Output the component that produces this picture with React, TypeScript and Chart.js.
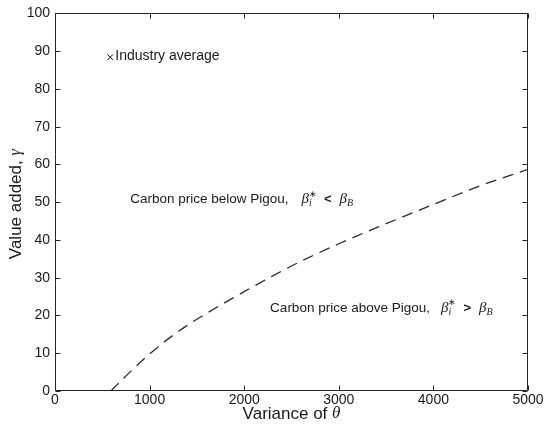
import React, { useEffect, useRef } from "react";
import { Chart, registerables } from "chart.js";

Chart.register(...registerables);

// Boundary curve: value added (gamma) as a function of variance of theta
const boundaryX = [590, 800, 1000, 1250, 1500, 2000, 2500, 3000, 3500, 4000, 4500, 5000];
const boundaryY = [0, 5.2, 9.8, 14.8, 19.0, 26.3, 33.1, 39.0, 44.3, 49.4, 54.4, 58.7];

// Industry average point
const industryX = [584];
const industryY = [88.4];
const industryLabel = "Industry average";

const xTicks = [0, 1000, 2000, 3000, 4000, 5000];
const yTicks = [0, 10, 20, 30, 40, 50, 60, 70, 80, 90, 100];

const xTitle = "Variance of ";
const xTitleSym = "θ";
const yTitle = "Value added, ";
const yTitleSym = "γ";

const belowText = "Carbon price below Pigou,";
const aboveText = "Carbon price above Pigou,";
// annotation anchors in data coordinates
const belowAnchor = { x: 795, y: 50.8 };
const aboveAnchor = { x: 2274, y: 22.0 };

const SANS = '"Liberation Sans", Arial, Helvetica, sans-serif';
const SERIF = '"Liberation Serif", "Times New Roman", serif';
const INK = "#1a1a1a";
const AXIS = "#262626";

type Run = { text: string; font: string; dy?: number; gap?: number; stackWith?: { text: string; font: string; dy: number } };

function runWidth(ctx: CanvasRenderingContext2D, r: Run) {
  ctx.font = r.font;
  let w = ctx.measureText(r.text).width;
  if (r.stackWith) {
    ctx.font = r.stackWith.font;
    w = Math.max(w, ctx.measureText(r.stackWith.text).width);
  }
  return w + (r.gap || 0);
}

function drawRuns(ctx: CanvasRenderingContext2D, runs: Run[], x: number, y: number) {
  let cx = x;
  for (const r of runs) {
    const w = runWidth(ctx, r);
    ctx.font = r.font;
    ctx.fillText(r.text, cx, y + (r.dy || 0));
    if (r.stackWith) {
      ctx.font = r.stackWith.font;
      ctx.fillText(r.stackWith.text, cx, y + r.stackWith.dy);
    }
    cx += w;
  }
  return cx - x;
}

function measureRuns(ctx: CanvasRenderingContext2D, runs: Run[]) {
  let w = 0;
  for (const r of runs) w += runWidth(ctx, r);
  return w;
}

function mathRuns(main: string, rel: string, lead: number): Run[] {
  const it = `italic 15px ${SERIF}`;
  const small = `italic 10px ${SERIF}`;
  return [
    { text: main, font: `13.5px ${SANS}`, gap: lead },
    { text: "β", font: it },
    { text: "∗", font: `9px ${SERIF}`, dy: -5, gap: 7, stackWith: { text: "i", font: small, dy: 4 } },
    { text: rel, font: `bold 13px ${SANS}`, gap: 8 },
    { text: "β", font: it },
    { text: "B", font: small, dy: 4 },
  ];
}

const decor = {
  id: "decor",
  afterDraw(chart: any) {
    const { ctx, chartArea: a, scales } = chart;
    const xs = scales.x;
    const ys = scales.y;
    ctx.save();
    // box
    ctx.strokeStyle = AXIS;
    ctx.lineWidth = 1;
    const L = Math.round(a.left) + 0.5;
    const R = Math.round(a.right) - 0.5;
    const T = Math.round(a.top) + 0.5;
    const B = Math.round(a.bottom) - 0.5;
    ctx.beginPath();
    ctx.rect(L, T, R - L, B - T);
    ctx.stroke();
    // inward ticks
    const tl = 5;
    ctx.beginPath();
    for (const v of xTicks) {
      const px = Math.round(xs.getPixelForValue(v)) + 0.5;
      ctx.moveTo(px, B);
      ctx.lineTo(px, B - tl);
      ctx.moveTo(px, T);
      ctx.lineTo(px, T + tl);
    }
    for (const v of yTicks) {
      const py = Math.round(ys.getPixelForValue(v)) + 0.5;
      ctx.moveTo(L, py);
      ctx.lineTo(L + tl, py);
      ctx.moveTo(R, py);
      ctx.lineTo(R - tl, py);
    }
    ctx.stroke();

    ctx.fillStyle = INK;
    ctx.textBaseline = "middle";
    ctx.textAlign = "left";

    // industry average label
    const ipx = xs.getPixelForValue(industryX[0]);
    const ipy = ys.getPixelForValue(industryY[0]);
    ctx.font = `14px ${SANS}`;
    ctx.fillText(industryLabel, ipx + 5, ipy - 1);

    // annotations
    drawRuns(ctx, mathRuns(belowText, "<", 13), xs.getPixelForValue(belowAnchor.x), ys.getPixelForValue(belowAnchor.y));
    drawRuns(ctx, mathRuns(aboveText, ">", 11), xs.getPixelForValue(aboveAnchor.x), ys.getPixelForValue(aboveAnchor.y));

    // x title
    const xr: Run[] = [
      { text: xTitle, font: `17px ${SANS}` },
      { text: xTitleSym, font: `italic 17px ${SERIF}` },
    ];
    const xw = measureRuns(ctx, xr);
    const cxm = (a.left + a.right) / 2;
    drawRuns(ctx, xr, cxm - xw / 2, 414);

    // y title
    const yr: Run[] = [
      { text: yTitle, font: `17px ${SANS}` },
      { text: yTitleSym, font: `italic 16px ${SERIF}` },
    ];
    const yw = measureRuns(ctx, yr);
    ctx.translate(16, (a.top + a.bottom) / 2 + 2);
    ctx.rotate(-Math.PI / 2);
    drawRuns(ctx, yr, -yw / 2, 0);
    ctx.restore();
  },
};

export default function App() {
  const ref = useRef<HTMLCanvasElement | null>(null);
  useEffect(() => {
    if (!ref.current) return;
    const chart = new Chart(ref.current, {
      type: "scatter",
      data: {
        datasets: [
          {
            type: "line",
            data: boundaryX.map((x, i) => ({ x, y: boundaryY[i] })),
            borderColor: "#2a2a2a",
            borderWidth: 1.3,
            borderDash: [11, 7],
            pointRadius: 0,
            cubicInterpolationMode: "monotone",
            fill: false,
          } as any,
          {
            type: "scatter",
            data: industryX.map((x, i) => ({ x, y: industryY[i] })),
            pointStyle: "crossRot",
            pointRadius: 4,
            borderColor: "#111",
            borderWidth: 1,
            backgroundColor: "#111",
          } as any,
        ],
      },
      options: {
        responsive: false,
        animation: false,
        devicePixelRatio: 1,
        layout: { padding: { top: 11, right: 18, left: 0, bottom: 0 } },
        plugins: { legend: { display: false }, tooltip: { enabled: false } },
        scales: {
          x: {
            type: "linear",
            min: 0,
            max: 5000,
            afterBuildTicks: (s: any) => {
              s.ticks = xTicks.map((v) => ({ value: v }));
            },
            afterFit: (s: any) => {
              s.height = 36;
            },
            grid: { display: false, drawTicks: false },
            border: { display: false },
            ticks: {
              color: INK,
              font: { size: 14, family: SANS },
              padding: 1,
              maxRotation: 0,
              callback: (v: any) => String(v),
            },
          },
          y: {
            type: "linear",
            min: 0,
            max: 100,
            afterBuildTicks: (s: any) => {
              s.ticks = yTicks.map((v) => ({ value: v }));
            },
            afterFit: (s: any) => {
              s.width = 55;
            },
            grid: { display: false, drawTicks: false },
            border: { display: false },
            ticks: { color: INK, font: { size: 14, family: SANS }, padding: 5, callback: (v: any) => String(v) },
          },
        },
      },
      plugins: [decor],
    });
    return () => chart.destroy();
  }, []);
  return (
    <div style={{ position: "absolute", left: 0, top: 0, width: 546, height: 427, background: "#fff" }}>
      <canvas ref={ref} width={546} height={427} style={{ display: "block" }} />
    </div>
  );
}
